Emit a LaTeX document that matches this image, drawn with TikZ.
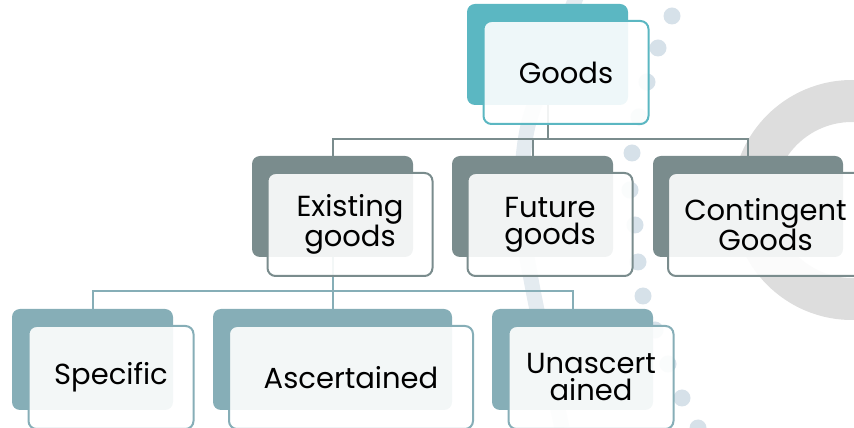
\documentclass[tikz,border=0pt]{standalone}
\usepackage{fontspec}
\setmainfont{Poppins}
\usepackage{xcolor}
\usetikzlibrary{positioning,calc}
\definecolor{topcolor}{RGB}{91,183,194}
\definecolor{kindcolor}{RGB}{122,140,141}
\definecolor{subcolor}{RGB}{134,174,183}
\definecolor{ringcolor}{RGB}{221,221,221}
\definecolor{dotcolor}{RGB}{214,225,233}
\definecolor{stripecolor}{RGB}{228,235,240}

\begin{document}
\begin{tikzpicture}[
    x=1pt, y=1pt,
    every node/.style={font=\fontsize{29}{27}\selectfont},
    back/.style={rectangle, rounded corners=8pt, minimum width=161pt, minimum height=101pt, inner sep=0pt, outer sep=0pt},
    front/.style={rectangle, rounded corners=8pt, fill=white, fill opacity=0.9, text opacity=1, line width=2pt, minimum width=165pt, minimum height=103pt, inner sep=0pt, align=center, text=black},
    link/.style={line width=2pt},
    dot/.style={fill=dotcolor}
]
\useasboundingbox (0,0) rectangle (854,428);
\clip (0,0) rectangle (854,428);

% Background decoration
\fill[ringcolor, even odd rule] (852,228) circle (120) (852,228) circle (78);
\draw[stripecolor, line width=15pt] plot[smooth] coordinates {(577,433) (552,368) (527,298) (521,218) (533,138) (562,0)};
\foreach \x/\y in {672/412, 658/380, 647/346, 639/311, 632/275, 630/238, 635/203, 638/166, 643/132, 655/98, 668/64, 682/30, 698/0}
    \fill[dot] (\x,\y) circle (8.5);

% Back boxes
\node[back, fill=topcolor] (goods) at (547.5,373.5) {};

\node[back, fill=kindcolor] (existing) at (332.5,221.5) {};
\node[back, fill=kindcolor, right=39pt of existing] (future) {};
\node[back, fill=kindcolor, minimum width=190pt, right=40pt of future] (contingent) {};

\node[back, fill=subcolor] (specific) at (92.5,68.5) {};
\node[back, fill=subcolor, minimum width=239pt, right=40pt of specific] (ascertained) {};
\node[back, fill=subcolor, right=40pt of ascertained] (unascertained) {};

% Connectors
\draw[link, kindcolor] (goods.south) -- ++(0,-34) -| (existing.north);
\draw[link, kindcolor] (goods.south) ++(0,-34) -| (future.north);
\draw[link, kindcolor] (goods.south) ++(0,-34) -| (contingent.north);

\draw[link, subcolor] (existing.south) -- ++(0,-34) -| (specific.north);
\draw[link, subcolor] (existing.south) ++(0,-34) -| (ascertained.north);
\draw[link, subcolor] (existing.south) ++(0,-34) -| (unascertained.north);

% Front boxes with the labels
\node[front, draw=topcolor] (goodsT) at ($(goods)+(18.5,-18)$) {Goods};

\node[front, draw=kindcolor] (existingT) at ($(existing)+(17.5,-18)$) {Existing\\goods};
\node[front, draw=kindcolor] (futureT) at ($(future)+(17.5,-18)$) {Future\\goods};
\node[front, draw=kindcolor, minimum width=195pt] (contingentT) at ($(contingent)+(17.5,-18)$) {Contingent\\Goods};

\node[front, draw=subcolor] (specificT) at ($(specific)+(18.5,-18)$) {Specific};
\node[front, draw=subcolor, minimum width=244pt] (ascertainedT) at ($(ascertained)+(18.5,-18)$) {Ascertained};
\node[front, draw=subcolor] (unascertainedT) at ($(unascertained)+(18.5,-18)$) {Unascert\\ained};

\end{tikzpicture}
\end{document}
